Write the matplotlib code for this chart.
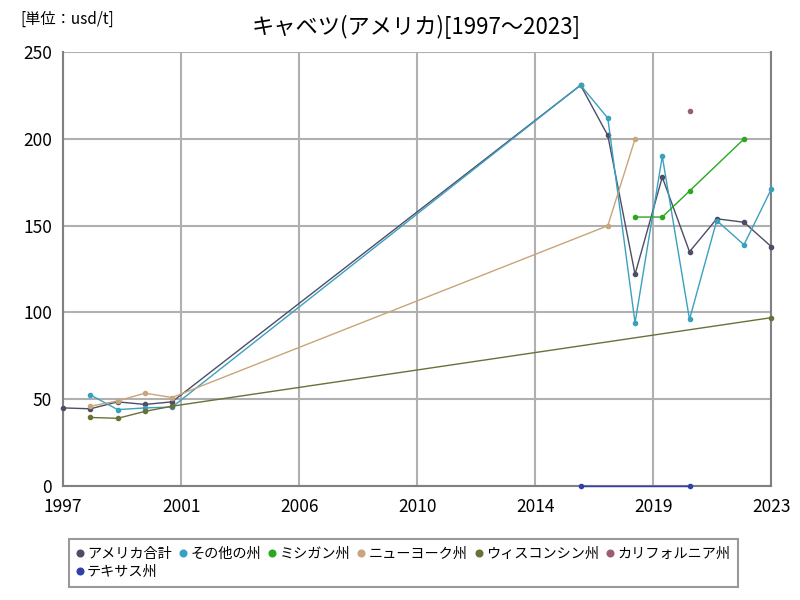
import numpy as np
import matplotlib.pyplot as plt

plt.rcParams['font.family'] = ['Noto Sans CJK JP', 'DejaVu Sans']

# --- data (usd/t) ---
us_years = [1997, 1998, 1999, 2000, 2001, 2016, 2017, 2018, 2019, 2020, 2021, 2022, 2023]
us_total = [45, 44.5, 48.5, 47, 48.5, 231, 202, 122, 178, 135, 154, 152, 138]

other_years = [1998, 1999, 2000, 2001, 2016, 2017, 2018, 2019, 2020, 2021, 2022, 2023]
other = [52.5, 44, 45, 45.5, 231, 212, 94, 190, 96, 153, 139, 171]

mi_years = [2018, 2019, 2020, 2022]
michigan = [155, 155, 170, 200]

ny_years = [1998, 1999, 2000, 2001, 2017, 2018]
new_york = [46, 49, 53.5, 51, 150, 200]

wi_years = [1998, 1999, 2000, 2001, 2023]
wisconsin = [39.5, 39, 43, 46, 97]

ca_years = [2020]
california = [216]

tx_years = [2016, 2020]
texas = [0, 0]

series = [
    ('アメリカ合計', us_years, us_total, '#4d4d68'),
    ('その他の州', other_years, other, '#3aa0c0'),
    ('ミシガン州', mi_years, michigan, '#2aa820'),
    ('ニューヨーク州', ny_years, new_york, '#c8a57a'),
    ('ウィスコンシン州', wi_years, wisconsin, '#6a7038'),
    ('カリフォルニア州', ca_years, california, '#98606e'),
    ('テキサス州', tx_years, texas, '#3040a8'),
]

fig = plt.figure(figsize=(8, 6), dpi=100)
ax = fig.add_axes([0.079, 0.19, 0.885, 0.723])

for name, xs, ys, col in series:
    ax.plot(xs, ys, color=col, lw=1.0, marker='o', ms=3, label=name,
            clip_on=False, zorder=4)

ticks = np.linspace(1997, 2023, 7)
ax.set_xticks(ticks)
ax.set_xticklabels([str(int(round(t))) for t in ticks])
ax.set_xlim(1997, 2023)
ax.set_ylim(0, 250)
ax.set_yticks([0, 50, 100, 150, 200, 250])
ax.tick_params(length=0, labelsize=12.5)
ax.tick_params(axis='x', pad=9)
ax.tick_params(axis='y', pad=8)
ax.grid(True, color='#b0b0b0', lw=1.5)
ax.set_axisbelow(True)
for sp in ax.spines.values():
    sp.set_color('#808080')
    sp.set_linewidth(1.5)
    sp.set_zorder(1)
ax.spines['top'].set_visible(False)

fig.text(0.52, 0.955, 'キャベツ(アメリカ)[1997～2023]', ha='center', va='center', fontsize=16)
fig.text(0.025, 0.968, '[単位：usd/t]', ha='left', va='center', fontsize=11)

# row-major order for the 2-row legend
handles, labels = ax.get_legend_handles_labels()
order = [0, 6, 1, 2, 3, 4, 5]
leg = fig.legend([handles[i] for i in order], [labels[i] for i in order],
                 loc='upper left', bbox_to_anchor=(0.077, 0.113),
                 ncol=6, fontsize=10.2, frameon=True, fancybox=False,
                 handlelength=0.5, handletextpad=0.25, columnspacing=0.55,
                 borderpad=0.55, labelspacing=0.3, markerscale=1.6)
leg.get_frame().set_edgecolor('#808080')
leg.get_frame().set_linewidth(1.5)
for h in leg.get_lines():
    h.set_linestyle('none')

fig.savefig('out.png', dpi=100)
